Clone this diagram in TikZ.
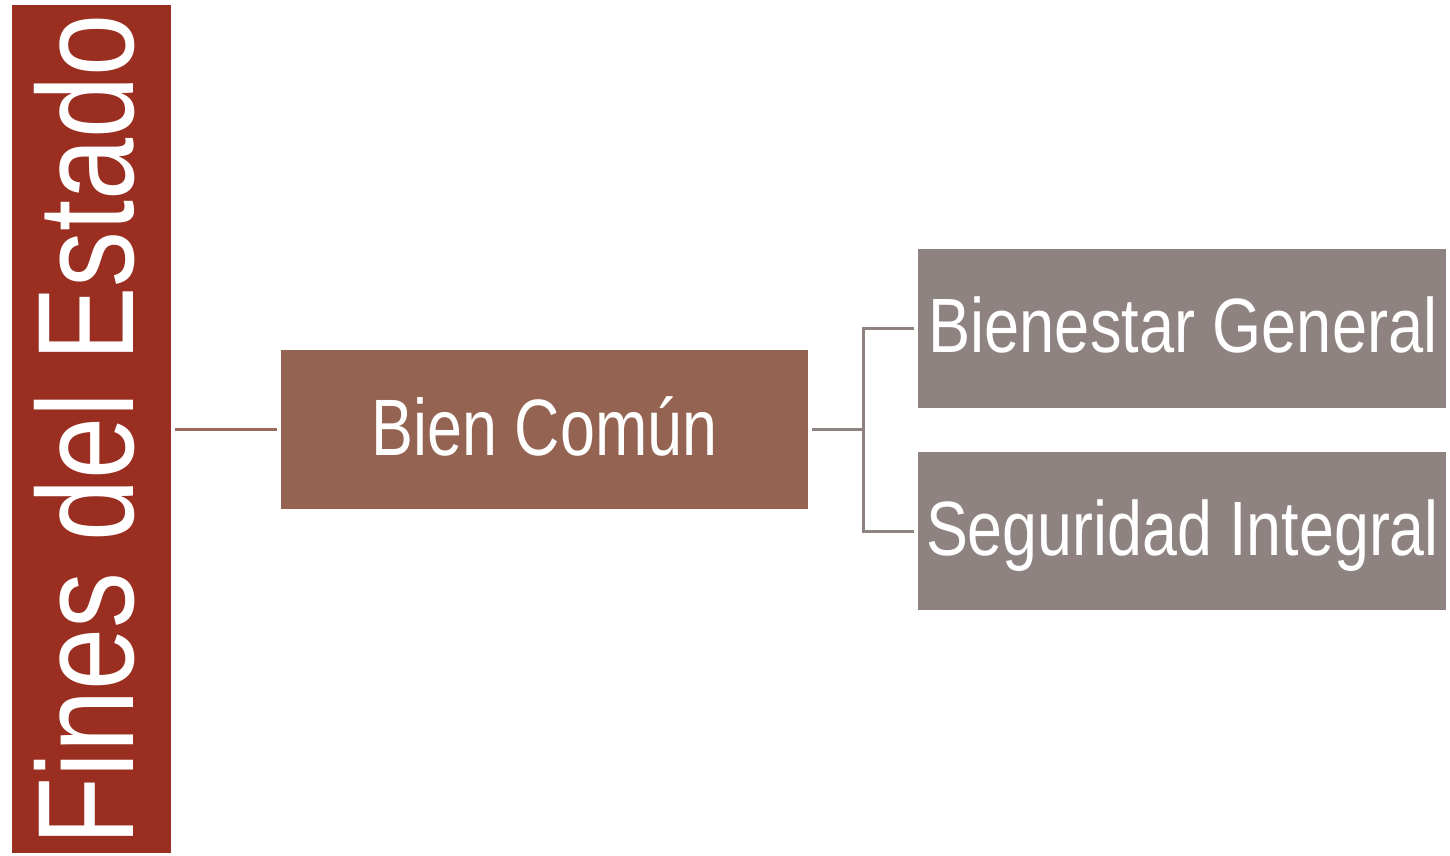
\documentclass[tikz,border=0pt]{standalone}
\usepackage{fontspec}
\setmainfont{Liberation Sans}
\definecolor{cred}{HTML}{9A2E20}
\definecolor{cbrown}{HTML}{946352}
\definecolor{cgray}{HTML}{8F8382}
\definecolor{lbrown}{HTML}{9A6A5E}
\begin{document}
\begin{tikzpicture}[x=1pt,y=-1pt,
  box/.style={rectangle,inner sep=0pt,draw=none},
  lbl/.style={text=white,inner sep=0pt},
  conn/.style={line width=3pt}]
\useasboundingbox (0,0) rectangle (1450,856);
\node[box,fill=cred,minimum width=159pt,minimum height=848pt] (fe) at (91.5,429) {};
\node[box,fill=cbrown,minimum width=527pt,minimum height=159pt] (bc) at (544.5,429.5) {};
\node[box,fill=cgray,minimum width=528pt,minimum height=159pt] (bg) at (1182,328.5) {};
\node[box,fill=cgray,minimum width=528pt,minimum height=158pt] (si) at (1182,531) {};
\node[lbl,rotate=90,anchor=base] (tfe) at (133,430) {\fontsize{137}{137}\selectfont\scalebox{0.815}[1]{Fines del Estado}};
\node[lbl,anchor=base] (tbc) at (544.5,455) {\fontsize{80}{80}\selectfont\scalebox{0.785}[1]{Bien Común}};
\node[lbl,anchor=base] (tbg) at (1183,352) {\fontsize{77}{77}\selectfont\scalebox{0.82}[1]{Bienestar General}};
\node[lbl,anchor=base] (tsi) at (1182.5,555) {\fontsize{77}{77}\selectfont\scalebox{0.815}[1]{Seguridad Integral}};
\coordinate (j) at ([xshift=55pt]bc.east);
\draw[conn,draw=lbrown,shorten <=4pt,shorten >=4pt] (fe.east |- bc.west) -- (bc.west);
\draw[conn,draw=cgray,shorten <=4pt] (bc.east) -- (j);
\draw[conn,draw=cgray,shorten >=4pt] (j) |- (bg.west);
\draw[conn,draw=cgray,shorten >=4pt] (j) |- (si.west);
\end{tikzpicture}
\end{document}
